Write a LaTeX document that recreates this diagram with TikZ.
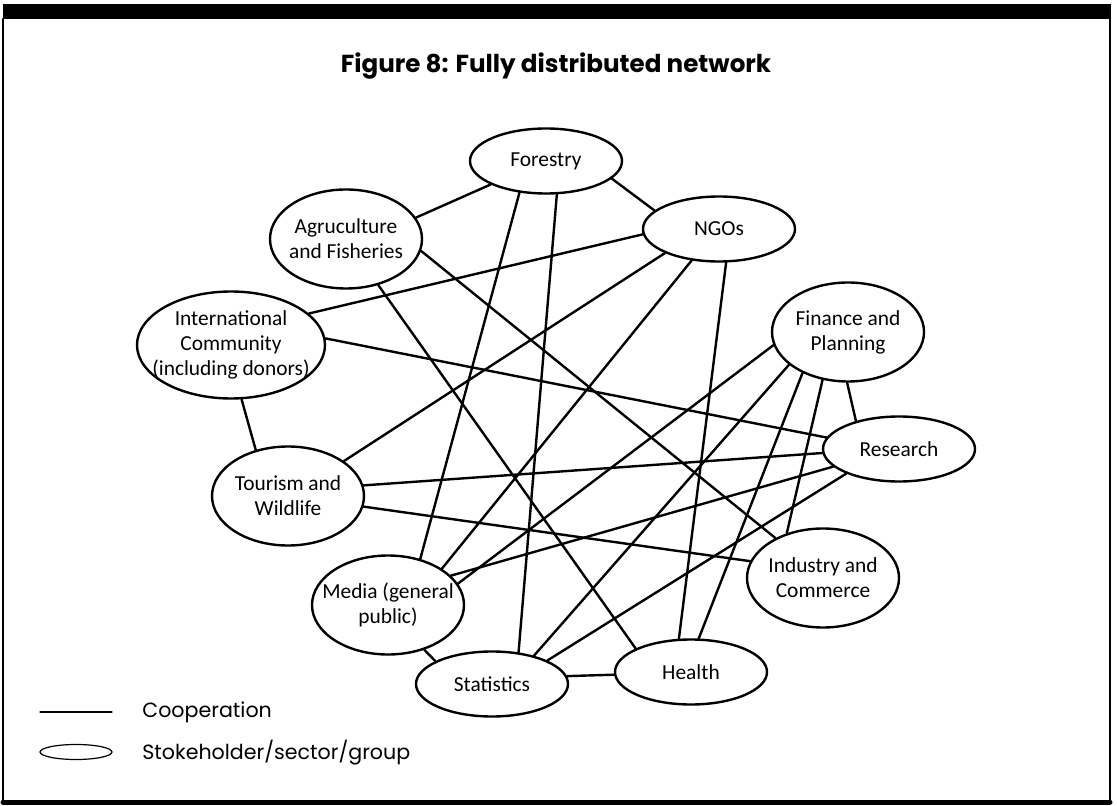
\documentclass[tikz,border=0pt]{standalone}
\usepackage{fontspec}
\setmainfont{Carlito}
\newfontfamily\legendfont{Poppins}
\usetikzlibrary{shapes.geometric}
\begin{document}
\begin{tikzpicture}[x=0.5pt,y=-0.5pt,font=\fontsize{10.7}{12.5}\selectfont,line join=round,line cap=round,
	group/.style={draw,ellipse,line width=1.2pt,align=center,inner sep=-8pt,minimum width=76pt,minimum height=32.5pt},
	group2/.style={group,minimum height=49.5pt},
	coop/.style={line width=1.2pt},
	legendtext/.style={anchor=base west,inner sep=0pt,font=\legendfont\fontsize{10.3}{12}\selectfont}]
	\useasboundingbox (0,0) rectangle (1117,806);
	\fill (3,4) rectangle (1111,19);
	\draw[line width=1pt] (3,19) -- (3,802);
	\draw[line width=1pt] (1110,19) -- (1110,802);
	\draw[line width=2.5pt] (3,802) -- (1110,802);
	\node[anchor=base,inner sep=0pt,font=\legendfont\bfseries\fontsize{12.3}{14}\selectfont] (title) at (556,73) {Figure 8: Fully distributed network};
	
	\node[group] (forestry) at (546,161) {Forestry};
	\node[group2] (agri) at (346,239) {Agruculture\\and Fisheries};
	\node[group2,minimum width=94pt,minimum height=53.5pt] (intl) at (231,345) {International\\Community\\(including donors)};
	\node[group] (ngos) at (719,229) {NGOs};
	\node[group2] (finance) at (848,332) {Finance and\\Planning};
	\node[group] (research) at (899,449) {Research};
	\node[group2] (industry) at (823,578) {Industry and\\Commerce};
	\node[group] (health) at (691,672) {Health};
	\node[group] (stats) at (492,684) {Statistics};
	\node[group2] (media) at (388,605) {Media (general\\public)};
	\node[group2] (tourism) at (288,496) {Tourism and\\Wildlife};
	
	\draw[coop] (forestry.-157) -- (agri.17);
	\draw[coop] (forestry.-15) -- (ngos.164);
	\draw[coop] (forestry.-130) -- (media.55);
	\draw[coop] (forestry.-72) -- (stats.50);
	\draw[coop] (agri.-9) -- (industry.140);
	\draw[coop] (agri.-55) -- (health.157);
	\draw[coop] (intl.22) -- (ngos.-176);
	\draw[coop] (intl.4) -- (research.171);
	\draw[coop] (intl.-79) -- (tourism.125);
	\draw[coop] (ngos.-156) -- (tourism.32);
	\draw[coop] (ngos.-131) -- (media.34);
	\draw[coop] (ngos.-78) -- (health.110);
	\draw[coop] (finance.-170) -- (media.17);
	\draw[coop] (finance.-151) -- (stats.34);
	\draw[coop] (finance.-138) -- (health.77);
	\draw[coop] (finance.-118) -- (industry.129);
	\draw[coop] (finance.-91) -- (research.147);
	\draw[coop] (research.-177) -- (tourism.8);
	\draw[coop] (research.-165) -- (media.25);
	\draw[coop] (research.-155) -- (stats.23);
	\draw[coop] (tourism.-8) -- (industry.167);
	\draw[coop] (media.-51) -- (stats.158);
	\draw[coop] (stats.6) -- (health.-178);
	
	\coordinate (coopL) at (40,712);
	\coordinate (coopR) at (112,712);
	\draw[line width=0.6pt] (coopL) -- (coopR);
	\node[legendtext] (coopT) at (142,717) {Cooperation};
	\node[draw,ellipse,line width=0.6pt,inner sep=0pt,minimum width=36pt,minimum height=7.5pt] (groupK) at (76,752) {};
	\node[legendtext] (groupT) at (142,759) {Stokeholder/sector/group};
\end{tikzpicture}
\end{document}
